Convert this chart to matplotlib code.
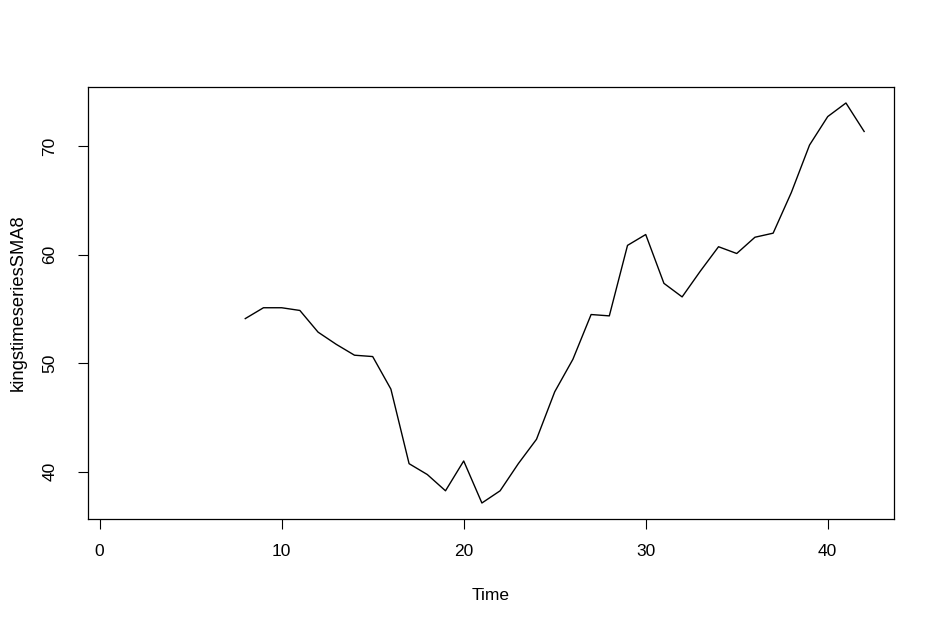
import matplotlib
matplotlib.use('Agg')
import matplotlib.pyplot as plt

plt.rcParams['font.family'] = ['Liberation Sans', 'DejaVu Sans']

# 8-point simple moving average, first 7 values missing
time = list(range(8, 43))
sma8 = [54.125, 55.125, 55.125, 54.875, 52.875, 51.75, 50.75, 50.625,
        47.625, 40.75, 39.75, 38.25, 41.0, 37.125, 38.25, 40.75, 43.0,
        47.375, 50.375, 54.5, 54.375, 60.875, 61.875, 57.375, 56.125,
        58.5, 60.75, 60.125, 61.625, 62.0, 65.75, 70.125, 72.75, 74.0,
        71.375]
xticks = [0, 10, 20, 30, 40]
yticks = [40, 50, 60, 70]

fig = plt.figure(figsize=(9.4, 6.29), dpi=100)
ax = fig.add_axes([88 / 940, 1 - 519 / 629, (894 - 88) / 940, (519 - 87) / 629])

ax.plot(time, sma8, color='black', linewidth=1.0)

# R-style 4% padding around the full series range (1..42)
xr = 42 - 1
ax.set_xlim(1 - 0.04 * xr, 42 + 0.04 * xr)
yr = max(sma8) - min(sma8)
ax.set_ylim(min(sma8) - 0.04 * yr, max(sma8) + 0.04 * yr)

ax.set_xticks(xticks)
ax.set_yticks(yticks)
ax.set_yticklabels([str(v) for v in yticks], rotation=90, va='center')
ax.tick_params(direction='out', length=7, width=0.8, labelsize=12.5)
ax.tick_params(axis='x', pad=11)
ax.tick_params(axis='y', pad=15)
for s in ax.spines.values():
    s.set_linewidth(0.9)

ax.set_xlabel('Time', fontsize=12.5, labelpad=21)
ax.set_ylabel('kingstimeseriesSMA8', fontsize=13.2, labelpad=11)

fig.savefig('out.png', dpi=100)
